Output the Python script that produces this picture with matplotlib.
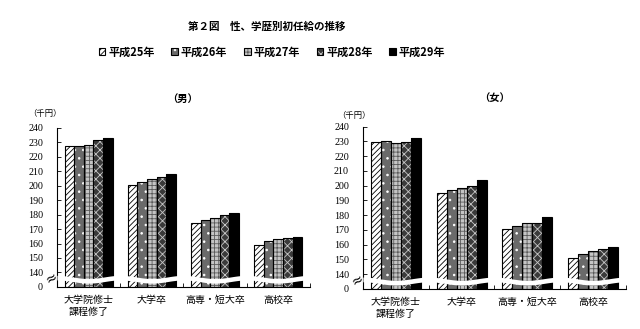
import numpy as np
import matplotlib
matplotlib.use('Agg')
import matplotlib.pyplot as plt
from matplotlib.patches import Patch

plt.rcParams['font.family'] = ['Noto Sans CJK JP', 'DejaVu Sans']
plt.rcParams['hatch.linewidth'] = 0.6

title = '第２図　性、学歴別初任給の推移'
years = ['平成25年', '平成26年', '平成27年', '平成28年', '平成29年']
categories = ['大学院修士\n課程修了', '大学卒', '高専・短大卒', '高校卒']

# 千円, rows = categories, cols = years
male = [[227.5, 227.6, 228.5, 231.9, 233.4],
        [200.4, 202.9, 204.5, 205.9, 207.8],
        [174.4, 176.3, 177.4, 180.0, 181.4],
        [159.1, 161.5, 163.2, 163.7, 164.5]]
female = [[229.8, 230.5, 229.1, 229.5, 232.4],
          [194.8, 197.3, 198.5, 199.5, 204.1],
          [170.8, 172.5, 174.6, 175.0, 178.6],
          [151.0, 153.6, 155.7, 157.1, 158.4]]

# bar styles: facecolor, hatch, hatch colour
styles = [('white', '//////', 'black'),
          ('#6a6a6a', '..', 'white'),
          ('#c4c4c4', '++++', '#5a5a5a'),
          ('#3a3a3a', 'xxxx', '#c8c8c8'),
          ('black', None, 'black')]

BASE = 130      # axis position where "0" is drawn (broken axis)
w = 0.152

fig = plt.figure(figsize=(6.4, 3.29), dpi=100)
fig.text(0.417, 0.918, title, ha='center', va='center', fontsize=7.6, fontweight='bold')

axes_pos = [[0.089, 0.128, 0.395, 0.483], [0.567, 0.122, 0.411, 0.493]]
panel_titles = ['（男）', '（女）']
unit_pos = [(0.070, 0.656), (0.553, 0.650)]
ptitle_pos = [(0.285, 0.700), (0.773, 0.703)]

handles = []
for k, data in enumerate([male, female]):
    ax = fig.add_axes(axes_pos[k])
    vals = np.array(data)
    x = np.arange(len(categories))
    for i in range(len(years)):
        fc, hatch, hc = styles[i]
        xs = x + (i - 2) * w
        ax.bar(xs, vals[:, i] - BASE, w, bottom=BASE, color=fc, hatch=hatch,
               edgecolor=hc, linewidth=0, zorder=2)
        ax.bar(xs, vals[:, i] - BASE, w, bottom=BASE, fill=False,
               edgecolor='black', linewidth=0.8, zorder=2.2)
        if k == 0:
            handles.append((Patch(facecolor=fc, hatch=hatch, edgecolor=hc, linewidth=0),
                            Patch(fill=False, edgecolor='black', linewidth=0.8)))
    # wavy white break band
    xx = np.linspace(-0.5, 3.5, 400)
    yc = 135.3 - 1.1 * np.cos(2 * np.pi * xx)
    ax.fill_between(xx, yc - 1.6, yc + 1.6, color='white', zorder=3, linewidth=0)

    ax.set_xlim(-0.5, 3.5)
    ax.set_ylim(BASE, 240)
    yt = [BASE] + list(range(140, 241, 10))
    ax.set_yticks(yt)
    ax.set_yticklabels(['0'] + [str(v) for v in range(140, 241, 10)],
                       family='Liberation Serif', fontsize=7.2)
    ax.tick_params(axis='y', direction='in', length=3, width=0.6, pad=10)
    ax.set_xticks(x)
    ax.set_xticklabels(categories, fontsize=7.2, linespacing=1.25)
    ax.tick_params(axis='x', length=0, pad=6)
    ax.set_xticks(np.arange(0.5, 4, 1), minor=True)
    ax.tick_params(axis='x', which='minor', direction='in', length=3, width=0.6)
    for s in ['top', 'right']:
        ax.spines[s].set_visible(False)
    ax.spines['left'].set_linewidth(0.8)
    ax.spines['bottom'].set_linewidth(0.8)
    ax.text(-0.022, 136.2, '≈', transform=ax.get_yaxis_transform(), ha='center',
            va='center', fontsize=10, family='DejaVu Sans', rotation=30, zorder=5)
    fig.text(*unit_pos[k], '（千円）', ha='center', va='center', fontsize=6)
    fig.text(*ptitle_pos[k], panel_titles[k], ha='center', va='center',
             fontsize=7.4, fontweight='bold')

fig.legend(handles, years, loc='center', bbox_to_anchor=(0.425, 0.842), ncol=5,
           frameon=False, handlelength=0.6, handleheight=0.6,
           handletextpad=0.25, columnspacing=1.5, prop={'weight': 'bold', 'size': 8})

fig.savefig('out.png', dpi=100)
